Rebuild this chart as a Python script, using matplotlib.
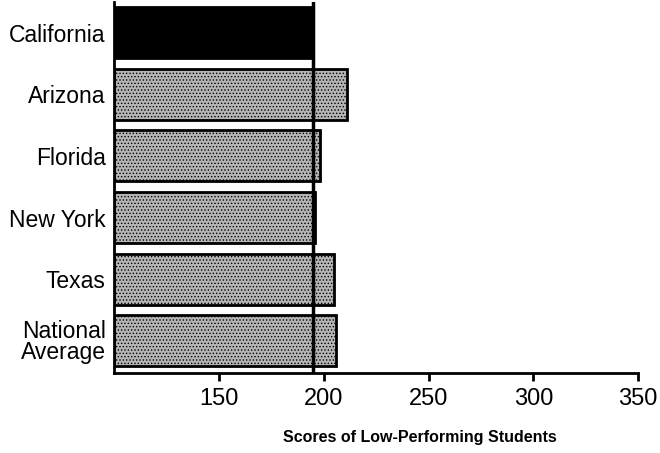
import numpy as np
import matplotlib
matplotlib.use('Agg')
import matplotlib.pyplot as plt

plt.rcParams['font.family'] = ['Liberation Sans', 'DejaVu Sans']
plt.rcParams['hatch.color'] = '#555555'
plt.rcParams['hatch.linewidth'] = 0.6

states = ['California', 'Arizona', 'Florida', 'New York', 'Texas', 'National\nAverage']
scores = [195, 211, 198, 196, 205, 206]
ticks = [150, 200, 250, 300, 350]
california = scores[0]

fig = plt.figure(figsize=(6.6, 4.53), dpi=100)
ax = fig.add_axes([0.173, 0.177, 0.794, 0.819])

y = np.arange(len(states))
colors = ['black'] + ['#b5b5b5'] * (len(states) - 1)
hatches = [None] + ['.....'] * (len(states) - 1)
for yi, s, c, h in zip(y, scores, colors, hatches):
    ax.barh(yi, s - 100, left=100, height=0.83, color=c, edgecolor='black',
            linewidth=2, hatch=h, zorder=2)

# reference line at the California score
ax.axvline(california, color='black', linewidth=2.5, zorder=3)

ax.set_xlim(100, 350)
ax.set_ylim(5.52, -0.5)
ax.set_xticks(ticks)
ax.set_xticklabels([str(t) for t in ticks], fontsize=17)
ax.set_yticks(y)
ax.set_yticklabels(states, fontsize=16.5, linespacing=0.9)
ax.tick_params(axis='y', length=0, pad=6)
ax.tick_params(axis='x', length=6, width=2, pad=5)

for side in ['top', 'right']:
    ax.spines[side].set_visible(False)
ax.spines['left'].set_linewidth(2)
ax.spines['bottom'].set_linewidth(2)

ax.set_xlabel('Scores of Low-Performing Students', fontsize=11.5, fontweight='bold')
ax.xaxis.set_label_coords(0.584, -0.155)

fig.savefig('out.png', dpi=100)
